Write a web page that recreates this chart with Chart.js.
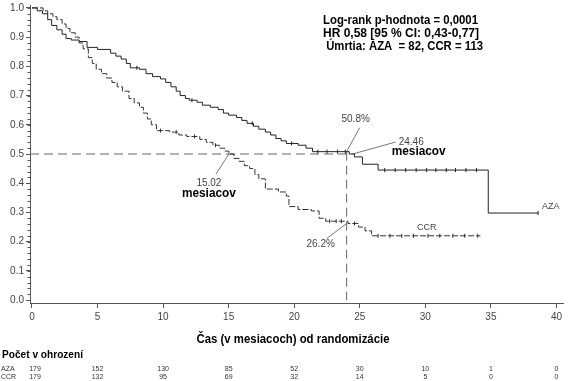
<!DOCTYPE html>
<html><head><meta charset="utf-8">
<script src="https://cdn.jsdelivr.net/npm/chart.js@4"></script>
<style>html,body{margin:0;padding:0;background:#fff}#wrap{width:568px;height:381px;position:relative}</style>
</head><body><div id="wrap"><canvas id="c" width="568" height="381"></canvas></div>
<script>
// ---- data ----
const azaTime = [0,0.4,0.8,1.2,1.5,1.9,2.3,2.6,3.0,3.6,4.2,5.0,6.0,6.4,6.8,7.2,7.5,8.2,8.7,9.2,9.8,10.2,10.6,11.0,11.3,11.7,12.0,12.6,13.0,13.6,14.2,14.6,15.0,15.6,16.0,16.4,16.9,17.3,17.8,18.2,18.6,19.0,19.4,20.3,20.9,21.4,24.2,24.6,25.2,26.4,34.8,38.6];
const azaSurv = [1.0,0.99,0.98,0.96,0.94,0.925,0.91,0.895,0.89,0.885,0.865,0.858,0.845,0.835,0.825,0.81,0.795,0.79,0.775,0.765,0.757,0.745,0.73,0.715,0.70,0.69,0.684,0.677,0.667,0.66,0.652,0.64,0.633,0.625,0.615,0.605,0.595,0.585,0.575,0.565,0.553,0.545,0.536,0.53,0.52,0.508,0.50,0.49,0.465,0.445,0.298,0.298];
const ccrTime = [0,0.85,1.2,1.6,1.9,2.3,2.6,2.9,3.3,3.6,3.9,4.3,4.6,4.9,5.3,5.7,6.1,6.5,6.9,7.4,7.8,8.2,8.5,8.8,9.1,9.5,10.5,11.2,11.8,12.8,13.3,13.8,14.3,14.7,15.02,15.4,15.8,16.2,16.6,17.0,17.3,17.8,18.8,19.4,19.6,20.3,21.3,21.9,22.4,24.1,24.9,25.4,25.9,34.2];
const ccrSurv = [1.0,0.99,0.98,0.97,0.96,0.945,0.93,0.915,0.90,0.88,0.86,0.83,0.81,0.79,0.775,0.76,0.745,0.73,0.715,0.69,0.675,0.66,0.64,0.62,0.60,0.58,0.575,0.565,0.56,0.55,0.54,0.53,0.52,0.51,0.50,0.485,0.475,0.46,0.45,0.43,0.415,0.38,0.37,0.356,0.32,0.31,0.305,0.28,0.27,0.262,0.25,0.237,0.22,0.22];
const azaCensor = [8.0,12.2,16.8,19.8,21.8,22.5,23.3,23.9,26.9,27.7,28.5,29.3,30.1,30.8,31.6,32.3,33.1,33.9,38.6];
const ccrCensor = [9.8,11.0,12.4,14.0,22.7,23.2,23.6,24.6,26.4,27.3,28.2,29.1,30.2,31.1,32.1,33.0,34.0];
const xTicks = [0,5,10,15,20,25,30,35,40];
const yTicks = [0,0.1,0.2,0.3,0.4,0.5,0.6,0.7,0.8,0.9,1.0];
const riskTimes = [0,5,10,15,20,25,30,35,40];
const riskAZA = [179,152,130,85,52,30,10,1,0];
const riskCCR = [179,132,95,69,32,14,5,0,0];
const medianAZA = 24.46, medianCCR = 15.02;
const landmark = 24, landmarkAZA = 0.508, landmarkCCR = 0.262;
const statLines = ['Log-rank p-hodnota = 0,0001','HR 0,58 [95 % CI: 0,43-0,77]',' Úmrtia: AZA  = 82, CCR = 113'];
const xTitle = 'Čas (v mesiacoch) od randomizácie';
const riskTitle = 'Počet v ohrození';

// ---- helpers ----
function km(times, surv){ return times.map((t,i)=>({x:t,y:surv[i]})); }
function survAt(times, surv, t){ let s = surv[0]; for(let i=0;i<times.length;i++){ if(times[i]<=t) s=surv[i]; } return s; }
const NARROW = "'Liberation Sans Narrow','Arial Narrow','Liberation Sans',sans-serif";
const REG = "'Liberation Sans',Arial,sans-serif";

const annot = {
  id:'annot',
  afterDatasetsDraw(chart){
    const ctx = chart.ctx, xs = chart.scales.x, ys = chart.scales.y;
    const P = (x,y)=>({x:xs.getPixelForValue(x), y:ys.getPixelForValue(y)});
    ctx.save();
    // minor ticks on y axis
    ctx.strokeStyle='#555'; ctx.lineWidth=1;
    for(let v=0; v<=1.0001; v+=0.02){
      const y = Math.round(ys.getPixelForValue(v))+0.5;
      ctx.beginPath(); ctx.moveTo(chart.chartArea.left-2.5,y); ctx.lineTo(chart.chartArea.left,y); ctx.stroke();
    }
    // leader lines
    ctx.strokeStyle='#555'; ctx.lineWidth=0.8;
    const line=(a,dx,dy)=>{ctx.beginPath();ctx.moveTo(a.x,a.y);ctx.lineTo(a.x+dx,a.y+dy);ctx.stroke();};
    const p50 = P(landmark, landmarkAZA), pM = P(medianAZA,0.5), pC = P(medianCCR,0.5), pL = P(landmark, landmarkCCR);
    line(p50,13,-24); line(pM,43,-12); line(pC,-13,20); line(pL,-20,15);
    // numeric labels
    ctx.fillStyle='#444'; ctx.font='10px '+REG; ctx.textBaseline='middle'; ctx.textAlign='center';
    ctx.fillText('50.8%', p50.x+9, p50.y-32);
    ctx.fillText('26.2%', pL.x-26, pL.y+21);
    ctx.fillText('15.02', pC.x-20, pC.y+29);
    ctx.textAlign='left';
    ctx.fillText('24.46', pM.x+46, pM.y-12);
    const pccr = P(30.1, survAt(ccrTime,ccrSurv,30));
    ctx.textAlign='center'; ctx.font='9px '+REG;
    ctx.fillText('CCR', pccr.x, pccr.y-8);
    const paza = P(azaTime[azaTime.length-1], azaSurv[azaSurv.length-1]);
    ctx.textAlign='left';
    ctx.fillText('AZA', paza.x+4, paza.y-7);
    // bold labels
    ctx.fillStyle='#000'; ctx.font='bold 12px '+NARROW;
    ctx.textAlign='left'; ctx.fillText('mesiacov', pM.x+39, pM.y-2, 54);
    ctx.textAlign='center'; ctx.fillText('mesiacov', pC.x-20, pC.y+40, 54);
    // stats block
    ctx.font='bold 12px '+NARROW; ctx.textAlign='left'; ctx.textBaseline='alphabetic';
    const widths=[155,156,160];
    statLines.forEach((s,i)=>ctx.fillText(s, 323, 24+13*i, widths[i]));
    // axis title
    ctx.textAlign='center';
    ctx.fillText(xTitle, 293, 343, 193);
    // risk table
    ctx.textAlign='left'; ctx.font='bold 11px '+NARROW;
    ctx.fillText(riskTitle, 2, 358, 81);
    ctx.font='7px '+REG; ctx.fillStyle='#333';
    ctx.fillText('AZA', 1, 371); ctx.fillText('CCR', 1, 379);
    ctx.textAlign='center';
    riskTimes.forEach((t,i)=>{
      const x = xs.getPixelForValue(t) + (i===0?3:0);
      ctx.fillText(String(riskAZA[i]), x, 371);
      ctx.fillText(String(riskCCR[i]), x, 379);
    });
    ctx.restore();
  }
};

const censorPts = (times, ct, cs)=> times.map(t=>({x:t,y:survAt(ct,cs,t)}));

new Chart(document.getElementById('c'), {
  type:'line',
  data:{ datasets:[
    {label:'AZA', data:km(azaTime,azaSurv), stepped:true, borderColor:'#222', borderWidth:1, pointRadius:0, fill:false},
    {label:'CCR', data:km(ccrTime,ccrSurv), stepped:true, borderColor:'#333', borderWidth:1, borderDash:[6,2], pointRadius:0, fill:false},
    {label:'AZA cens', data:censorPts(azaCensor,azaTime,azaSurv), showLine:false, pointStyle:'line', rotation:90, pointRadius:2, borderColor:'#222', borderWidth:1},
    {label:'CCR cens', data:censorPts(ccrCensor,ccrTime,ccrSurv), showLine:false, pointStyle:'line', rotation:90, pointRadius:2, borderColor:'#333', borderWidth:1},
    {label:'refH', data:[{x:-0.15,y:0.5},{x:medianAZA,y:0.5}], borderColor:'#666', borderWidth:1, borderDash:[9,5], pointRadius:0},
    {label:'refV', data:[{x:landmark,y:landmarkAZA},{x:landmark,y:0}], borderColor:'#666', borderWidth:1, borderDash:[9,5], pointRadius:0}
  ]},
  options:{
    responsive:false, animation:false, devicePixelRatio:1,
    layout:{padding:{top:2,right:3,left:0,bottom:0}},
    plugins:{legend:{display:false}, tooltip:{enabled:false}},
    scales:{
      x:{type:'linear', min:-0.15, max:40.5,
        afterBuildTicks:s=>{s.ticks=xTicks.map(v=>({value:v}));},
        afterFit:s=>{s.height=78;},
        grid:{drawOnChartArea:false, drawTicks:true, tickLength:5, color:'#555'},
        border:{color:'#555'},
        ticks:{font:{family:REG,size:10}, color:'#444', padding:3, maxRotation:0, autoSkip:false}},
      y:{type:'linear', min:-0.01, max:1.01,
        afterBuildTicks:s=>{s.ticks=yTicks.map(v=>({value:v}));},
        afterFit:s=>{s.width=30;},
        grid:{drawOnChartArea:false, drawTicks:true, tickLength:4, color:'#555'},
        border:{color:'#555'},
        ticks:{font:{family:REG,size:10,lineHeight:0.4}, color:'#444', padding:2, callback:v=>v.toFixed(1), autoSkip:false}}
    }
  },
  plugins:[annot]
});
</script></body></html>
